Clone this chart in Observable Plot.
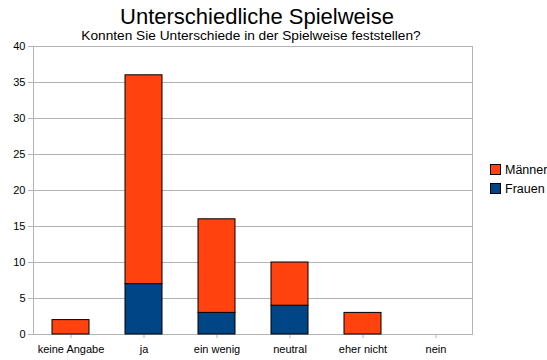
<!DOCTYPE html>
<html><head><meta charset="utf-8">
<script src="https://cdn.jsdelivr.net/npm/d3@7"></script>
<script src="https://cdn.jsdelivr.net/npm/@observablehq/plot@0.6"></script>
<style>
body{margin:0;background:#fff;font-family:"Liberation Sans",Arial,sans-serif;}
#wrap{position:relative;width:547px;height:360px;overflow:hidden;}
#title{position:absolute;left:0;width:514px;text-align:center;top:6px;font-size:22px;line-height:22px;color:#000;white-space:nowrap;}
#subtitle{position:absolute;left:0;width:502px;text-align:center;top:29px;font-size:13.7px;line-height:14px;color:#000;white-space:nowrap;}
.leg{position:absolute;left:490px;font-size:12.5px;white-space:nowrap;}
.leg span{display:inline-block;width:9px;height:9px;border:1px solid #000;vertical-align:-1px;margin-right:4px;}
</style></head>
<body><div id="wrap">
<div id="chart"></div>
<div id="title">Unterschiedliche Spielweise</div>
<div id="subtitle">Konnten Sie Unterschiede in der Spielweise feststellen?</div>
<div id="legend"></div>
</div>
<script>
const categories = ["keine Angabe","ja","ein wenig","neutral","eher nicht","nein"];
const seriesNames = ["Frauen","Männer"];
const frauen = [0,7,3,4,0,0];
const maenner = [2,29,13,6,3,0];
const colors = ["#004586","#ff420e"];
const yTicks = [0,5,10,15,20,25,30,35,40];

const data = [];
categories.forEach((c,i)=>{
  data.push({cat:c, series:"Frauen", value:frauen[i]});
  data.push({cat:c, series:"Männer", value:maenner[i]});
});

const chart = Plot.plot({
  width:547, height:360,
  marginLeft:33, marginRight:75, marginTop:46, marginBottom:26,
  style:{fontFamily:"Liberation Sans, Arial, sans-serif", fontSize:"11px", background:"#fff", color:"#000"},
  x:{domain:categories, paddingInner:0.5, paddingOuter:0.25, label:null},
  y:{domain:[0,40], label:null},
  color:{domain:seriesNames, range:colors},
  marks:[
    Plot.ruleY(yTicks,{stroke:"#b3b3b3", strokeWidth:1}),
    Plot.frame({stroke:"#b3b3b3"}),
    Plot.axisY({ticks:yTicks, tickSize:5, tickPadding:3, stroke:"#b3b3b3", fill:"#000", label:null}),
    Plot.axisX({tickSize:4, tickPadding:7, stroke:"#b3b3b3", fill:"#000", label:null}),
    Plot.barY(data.filter(d=>d.value>0), Plot.stackY({x:"cat", y:"value", fill:"series", order:seriesNames, stroke:"#000", strokeWidth:1}))
  ]
});
document.getElementById("chart").appendChild(chart);

const legend = document.getElementById("legend");
[["Männer",colors[1],163],["Frauen",colors[0],182]].forEach(([n,c,t])=>{
  const d=document.createElement("div");
  d.className="leg"; d.style.top=t+"px";
  d.innerHTML=`<span style="background:${c}"></span>${n}`;
  legend.appendChild(d);
});
</script>
</body></html>
